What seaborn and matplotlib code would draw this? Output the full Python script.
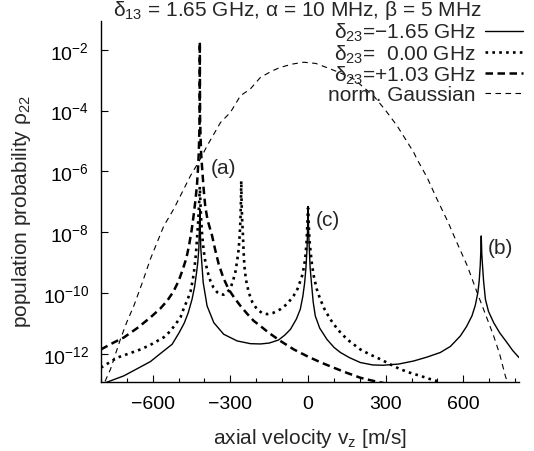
import numpy as np
import pandas as pd
import matplotlib
matplotlib.use("Agg")
import matplotlib.pyplot as plt
import seaborn as sns

# values; y given as log10 of the population
solid_v = [-800, -712, -668, -609, -568, -525, -498, -478, -463, -448, -438, -431,
           -426, -422, -420, -419, -418, -417, -416, -414, -410, -405, -390, -364,
           -326, -274, -223, -184, -150, -114, -90, -68, -45, -30, -20, -13, -8, -4,
           -2, -1, 0, 1, 2, 5, 8, 13, 20, 28, 45, 73, 100, 125, 160, 202, 250, 290,
           350, 408, 460, 511, 550, 588, 612, 633, 646, 656, 661, 665, 667, 668, 669,
           670, 671, 674, 678, 685, 697, 717, 740, 768, 790, 815]
solid_log = [-13.0, -12.72, -12.52, -12.25, -11.97, -11.68, -11.3, -10.98, -10.65,
             -10.2, -9.78, -9.35, -9.0, -8.56, -8.0, -7.6, -7.24, -7.6, -8.0, -8.56,
             -9.05, -9.65, -10.42, -10.97, -11.35, -11.57, -11.66, -11.67, -11.64,
             -11.54, -11.38, -11.19, -10.85, -10.53, -10.1, -9.65, -9.15, -8.56,
             -7.95, -7.5, -7.15, -7.5, -7.95, -8.56, -9.15, -9.65, -10.3, -10.75,
             -11.15, -11.52, -11.78, -11.95, -12.12, -12.28, -12.36, -12.37, -12.33,
             -12.23, -12.1, -11.95, -11.75, -11.41, -11.1, -10.75, -10.4, -9.98, -9.6,
             -9.1, -8.7, -8.4, -8.12, -8.4, -8.7, -9.1, -9.6, -10.2, -10.6, -10.97,
             -11.3, -11.62, -11.88, -12.12]

dotted_v = [-800, -737, -680, -647, -609, -557, -532, -510, -493, -480, -465, -454,
            -445, -439, -433, -428, -424, -421, -419, -418, -417, -415, -412, -409,
            -403, -397, -388, -377, -365, -351, -338, -326, -313, -300, -290, -281,
            -274, -268, -264, -261, -259, -258, -257, -255, -252, -249, -246, -240,
            -229, -215, -197, -178, -158, -135, -107, -80, -56, -40, -23, -15, -10,
            -6, -4, -2, 0, 2, 4, 6, 9, 15, 22, 33, 47, 65, 86, 115, 151, 202, 240,
            279, 320, 356, 395, 434, 470, 498, 540]
dotted_log = [-12.45, -12.12, -11.95, -11.85, -11.7, -11.45, -11.25, -11.0, -10.8,
              -10.5, -10.2, -9.95, -9.55, -9.2, -8.7, -8.1, -7.6, -7.1, -6.7, -6.5,
              -6.7, -7.2, -7.7, -8.1, -8.6, -8.95, -9.3, -9.6, -9.82, -9.97, -10.04,
              -10.05, -9.98, -9.85, -9.6, -9.32, -8.95, -8.56, -8.1, -7.57, -6.9,
              -6.31, -6.9, -7.5, -8.0, -8.6, -9.1, -9.55, -9.98, -10.3, -10.53,
              -10.65, -10.69, -10.65, -10.53, -10.35, -10.09, -9.85, -9.43, -9.1,
              -8.78, -8.35, -8.0, -7.6, -7.2, -7.6, -8.0, -8.3, -8.56, -9.05, -9.43,
              -9.85, -10.2, -10.55, -10.86, -11.2, -11.52, -11.85, -12.02, -12.17,
              -12.35, -12.5, -12.62, -12.72, -12.82, -12.89, -13.05]

dashed_v = [-800, -750, -712, -660, -609, -570, -544, -520, -500, -485, -470, -460,
            -450, -442, -435, -429, -425, -422, -420, -419, -418.5, -418, -417.5,
            -417, -415, -413, -409, -403, -397, -388, -371, -358, -345, -327, -307,
            -285, -261, -235, -210, -184, -152, -107, -55, -4, 50, 99, 150, 202, 250,
            290, 350]
dashed_log = [-11.85, -11.62, -11.46, -11.15, -10.8, -10.5, -10.25, -9.95, -9.6,
              -9.25, -8.85, -8.45, -7.95, -7.45, -6.95, -6.45, -5.9, -5.37, -4.7,
              -4.28, -3.3, -1.74, -3.3, -4.28, -4.9, -5.4, -5.9, -6.6, -7.15, -7.6,
              -8.1, -8.6, -9.05, -9.5, -9.87, -10.15, -10.42, -10.68, -10.91, -11.08,
              -11.3, -11.57, -11.85, -12.07, -12.28, -12.45, -12.62, -12.78, -12.88,
              -12.95, -13.1]

gauss_v = [-800, -763, -725, -700, -673, -640, -609, -557, -519, -490, -454, -420,
           -390, -338, -300, -261, -223, -184, -140, -107, -60, -17, 30, 86, 130,
           176, 253, 300, 344, 408, 421, 460, 498, 540, 575, 615, 653, 690, 717, 740,
           762, 780]
gauss_log = [-13.2, -12.5, -11.52, -10.95, -10.42, -9.65, -8.88, -7.79, -7.24, -6.75,
             -6.14, -5.65, -5.16, -4.39, -4.06, -3.51, -3.29, -2.91, -2.7, -2.58,
             -2.47, -2.41, -2.45, -2.63, -2.78, -2.96, -3.51, -4.0, -4.5, -5.37, -5.6,
             -6.2, -6.91, -7.65, -8.34, -9.1, -9.98, -10.8, -11.41, -12.0, -12.72,
             -13.2]

labels = ["δ$_{23}$=\u22121.65 GHz", "δ$_{23}$=  0.00 GHz",
          "δ$_{23}$=+1.03 GHz", "norm. Gaussian"]

sns.set_theme(style="ticks")
plt.rcParams["font.family"] = ["Liberation Sans", "DejaVu Sans"]
plt.rcParams["mathtext.default"] = "regular"
fs = 15

fig = plt.figure(figsize=(5.34, 4.52), dpi=100)
ax = fig.add_axes([0.189, 0.152, 0.783, 0.799])

series = [
    (solid_v, solid_log, dict(lw=1.0, ls="-")),
    (dotted_v, dotted_log, dict(lw=1.9, ls=(0, (1, 1.6)))),
    (dashed_v, dashed_log, dict(lw=1.8, ls=(0, (3, 1.8)))),
    (gauss_v, gauss_log, dict(lw=0.8, ls=(0, (5, 4)))),
]
for (v, lg, kw), lab in zip(series, labels):
    df = pd.DataFrame({"v": v, "p": 10.0 ** np.array(lg)})
    sns.lineplot(data=df, x="v", y="p", ax=ax, color="black", label=lab,
                 estimator=None, sort=False, **kw)

ax.set_yscale("log")
ax.set_xlim(-800, 815)
ax.set_ylim(10 ** -12.93, 10 ** -1.06)
ax.set_yticks([1e-2, 1e-4, 1e-6, 1e-8, 1e-10, 1e-12])
ax.yaxis.set_minor_locator(matplotlib.ticker.NullLocator())
ax.set_xticks([-600, -300, 0, 300, 600])
ax.set_xticks(np.arange(-800, 801, 100), minor=True)
ax.tick_params(which="both", direction="in", labelsize=14, colors="black")
ax.tick_params(which="major", length=5, width=0.8)
ax.tick_params(which="minor", length=3, width=0.8)
ax.tick_params(axis="y", pad=8.5)
ax.tick_params(axis="x", pad=9.5)
for s in ["top", "right"]:
    ax.spines[s].set_visible(False)
for s in ["left", "bottom"]:
    ax.spines[s].set_linewidth(1.0)
    ax.spines[s].set_color("black")

ax.set_xlabel("axial velocity v$_z$ [m/s]", fontsize=fs)
ax.xaxis.set_label_coords(0.5, -0.121)
ax.set_ylabel("population probability ρ$_{22}$", fontsize=fs)
ax.yaxis.set_label_coords(-0.163, 0.474)

ax.text(-327, 10 ** -5.86, "(a)", ha="center", va="center", fontsize=fs)
ax.text(75, 10 ** -7.57, "(c)", ha="center", va="center", fontsize=fs)
ax.text(742, 10 ** -8.49, "(b)", ha="center", va="center", fontsize=fs)

fig.text(0.556, 0.976, "δ$_{13}$ = 1.65 GHz, α = 10 MHz, β = 5 MHz",
         ha="center", va="center", fontsize=fs)

ax.legend(loc="upper right", bbox_to_anchor=(1.0096, 1.0), frameon=False,
          markerfirst=False, handlelength=1.83, handletextpad=0.43,
          labelspacing=-0.05, borderpad=0.0, borderaxespad=0.0, fontsize=fs)

fig.savefig("out.png", dpi=100)
